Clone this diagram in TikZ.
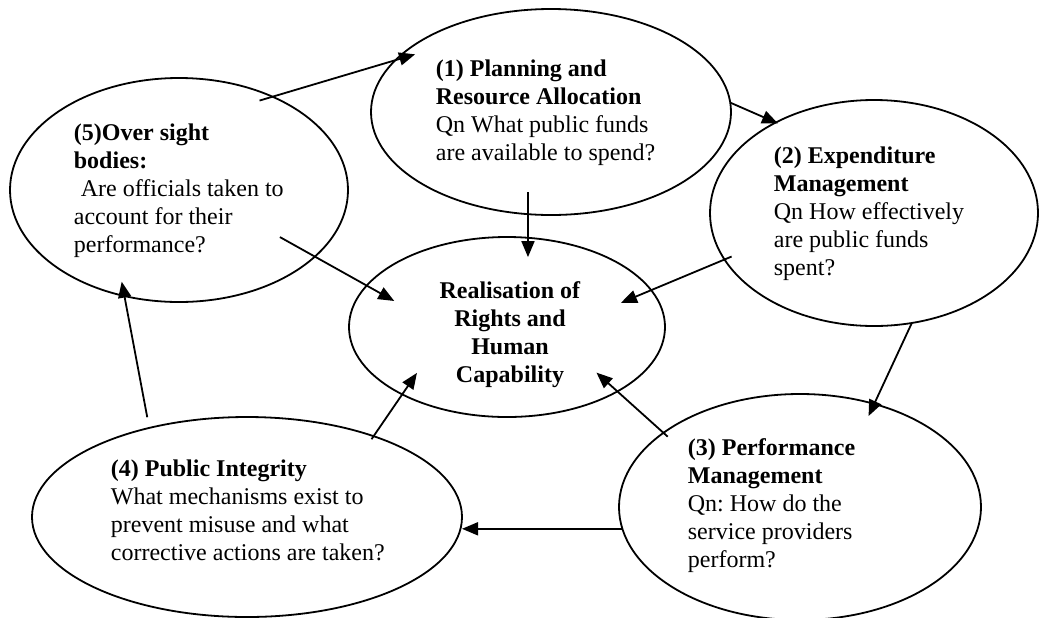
\documentclass[tikz,border=0pt]{standalone}
\usepackage{fontspec}
\setmainfont{Liberation Serif}
\usetikzlibrary{shapes,arrows.meta,calc}
\frenchspacing

\begin{document}
\begin{tikzpicture}[x=0.5pt, y=-0.5pt, line width=0.9pt,
    bubble/.style={ellipse, draw, inner sep=0pt, outer sep=0pt},
    blurb/.style={anchor=base west, align=left, inner sep=0pt, font=\fontsize{12pt}{14pt}\selectfont},
    link/.style={-{Triangle[length=8pt,width=6.5pt]}}]
    \useasboundingbox (0,0) rectangle (1039,617);

    \node[bubble, minimum width=180pt, minimum height=103pt] (plan) at (551,112) {};
    \node[bubble, minimum width=164pt, minimum height=113pt] (spend) at (874,213) {};
    \node[bubble, minimum width=181pt, minimum height=113pt] (perf) at (800,507) {};
    \node[bubble, minimum width=215pt, minimum height=100pt] (integ) at (247,517) {};
    \node[bubble, minimum width=169pt, minimum height=112pt] (over) at (179,190) {};
    \node[bubble, minimum width=158pt, minimum height=90pt] (rights) at (507,327) {};

    % base anchor sits on the last line
    \node[blurb] (plantext) at (435,160) {\textbf{(1) Planning and}\\ \textbf{Resource Allocation}\\ Qn What public funds\\ are available to spend?};
    \node[blurb] (spendtext) at (773,275) {\textbf{(2) Expenditure}\\ \textbf{Management}\\ Qn How effectively\\ are public funds\\ spent?};
    \node[blurb] (perftext) at (687,567) {\textbf{(3) Performance}\\ \textbf{Management}\\ Qn: How do the\\ service providers\\ perform?};
    \node[blurb] (integtext) at (110,560) {\textbf{(4) Public Integrity}\\ What mechanisms exist to\\ prevent misuse and what\\ corrective actions are taken?};
    \node[blurb] (overtext) at (73,252) {\textbf{(5)Over sight}\\ \textbf{bodies:}\\ \hspace*{3.5pt}Are officials taken to\\ account for their\\ performance?};
    \node[blurb, anchor=base, align=center] (rightstext) at (510,382) {\textbf{Realisation of}\\ \textbf{Rights and}\\ \textbf{Human}\\ \textbf{Capability}};

    \coordinate (plandrop) at ($(plan.center)!.79!(plan.254.6)$);
    \coordinate (rightstop) at ($(rights.center)!.79!(rights.72.6)$);

    \draw[link] ($(over.center)!.93!(over.48.7)$) -- ($(plan.center)!.94!(plan.157.3)$);
    \draw[link] (plan.3.8) -- ($(spend.center)!.985!(spend.137.5)$);
    \draw[link] (plandrop) -- (plandrop |- rightstop);
    \draw[link] ($(spend.center)!.95!(spend.197.7)$) -- ($(rights.center)!.77!(rights.12.5)$);
    \draw[link] (spend.289) -- ($(perf.center)!.89!(perf.53.2)$);
    \draw[link] ($(perf.center)!.96!(perf.152.9)$) -- ($(rights.center)!.76!(rights.333.7)$);
    \draw[link] (perf.187.3) -- (perf.187.3 -| integ.east);
    \draw[link] ($(integ.center)!.97!(integ.32.2)$) -- ($(rights.center)!.765!(rights.207.1)$);
    \draw[link] ($(integ.center)!1.1!(integ.135.6)$) -- ($(over.center)!.886!(over.238.7)$);
    \draw[link] ($(over.center)!.73!(over.335)$) -- ($(rights.center)!.77!(rights.167.6)$);
\end{tikzpicture}
\end{document}
